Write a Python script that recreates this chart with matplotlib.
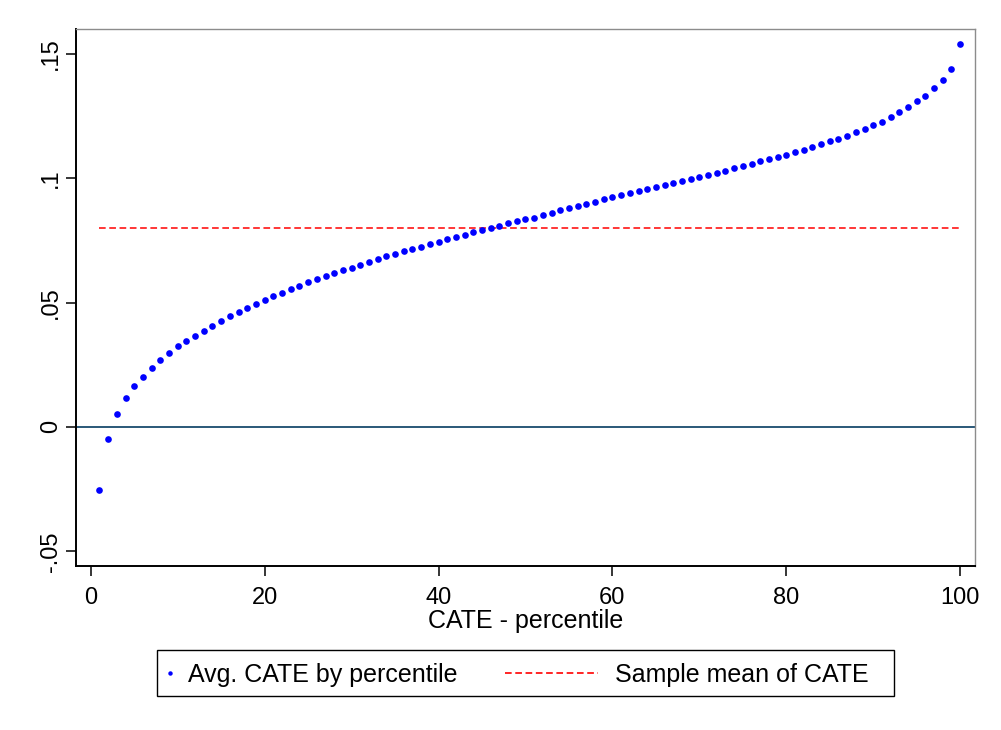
import matplotlib
matplotlib.use("Agg")
import matplotlib.pyplot as plt
from matplotlib.lines import Line2D
from matplotlib.patches import Rectangle

plt.rcParams['font.family'] = ['Liberation Sans', 'DejaVu Sans']
plt.rcParams['lines.scale_dashes'] = False

# percentile (1..100) and average CATE
pct = list(range(1, 101))
avg_cate = [
    -0.0252, -0.0047, 0.0051, 0.0118, 0.0165, 0.0202, 0.0237, 0.0270, 0.0299, 0.0325,
    0.0346, 0.0366, 0.0386, 0.0406, 0.0426, 0.0446, 0.0463, 0.0479, 0.0495, 0.0511,
    0.0527, 0.0540, 0.0555, 0.0568, 0.0582, 0.0595, 0.0607, 0.0619, 0.0630, 0.0641,
    0.0652, 0.0664, 0.0676, 0.0688, 0.0697, 0.0707, 0.0716, 0.0724, 0.0735, 0.0745,
    0.0755, 0.0763, 0.0772, 0.0782, 0.0790, 0.0798, 0.0807, 0.0818, 0.0826, 0.0835,
    0.0842, 0.0853, 0.0862, 0.0872, 0.0882, 0.0890, 0.0898, 0.0906, 0.0916, 0.0924,
    0.0932, 0.0940, 0.0948, 0.0956, 0.0964, 0.0972, 0.0980, 0.0988, 0.0996, 0.1004,
    0.1012, 0.1020, 0.1031, 0.1040, 0.1050, 0.1059, 0.1069, 0.1078, 0.1086, 0.1095,
    0.1105, 0.1114, 0.1125, 0.1136, 0.1148, 0.1158, 0.1168, 0.1184, 0.1196, 0.1212,
    0.1228, 0.1246, 0.1266, 0.1288, 0.1309, 0.1331, 0.1361, 0.1396, 0.1441, 0.1538,
]
sample_mean = 0.080

xticks = [0, 20, 40, 60, 80, 100]
yticks = [-0.05, 0, 0.05, 0.1, 0.15]
ytick_labels = ['-.05', '0', '.05', '.1', '.15']
legend_labels = ['Avg. CATE by percentile', 'Sample mean of CATE']

DOT = '#0000ff'
RED = '#ff0000'
DASH = (4.8, 2.6)

fig = plt.figure(figsize=(10.01, 7.30), dpi=100)
ax = fig.add_axes([0.0759, 0.2247, 0.8981, 0.7356])

ax.axhline(0, color='#2a5878', lw=1.4, zorder=1)
ax.plot(pct, avg_cate, 'o', color=DOT, ms=4.8, mec='none', zorder=3)
ax.plot(pct, [sample_mean] * len(pct), color=RED, lw=1.1, dashes=DASH, zorder=2)

ax.set_xlim(-1.7, 101.7)
ax.set_ylim(-0.0559, 0.160)
ax.set_xticks(xticks)
ax.set_yticks(yticks)
ax.set_yticklabels(ytick_labels, rotation=90, va='center')
ax.tick_params(axis='both', direction='out', length=7, width=1.1,
               labelsize=17, color='black')
ax.tick_params(axis='y', pad=3)
ax.tick_params(axis='x', pad=8)
ax.set_xlabel('CATE - percentile', fontsize=18, labelpad=0)

for side in ['left', 'bottom']:
    ax.spines[side].set_color('black')
    ax.spines[side].set_linewidth(1.4)
for side in ['top', 'right']:
    ax.spines[side].set_color('#8c8c8c')
    ax.spines[side].set_linewidth(1.0)

# legend box drawn by hand (Stata style: short marker key, long line key)
fig.patches.append(Rectangle((0.1568, 0.0466), 0.7363, 0.0630, transform=fig.transFigure,
                             fill=False, edgecolor='black', linewidth=1.0))
key_y = 0.0781
fig.add_artist(Line2D([0.1698], [key_y], marker='o', ms=3.2, color=DOT, mec='none',
                      linestyle='none', transform=fig.transFigure))
fig.add_artist(Line2D([0.5045, 0.5974], [key_y, key_y], color=RED, lw=1.2,
                      dashes=DASH, transform=fig.transFigure))
fig.text(0.1878, 0.0658, legend_labels[0], fontsize=18, va='baseline')
fig.text(0.6144, 0.0658, legend_labels[1], fontsize=18, va='baseline')

fig.savefig('out.png', dpi=100, facecolor='white')
